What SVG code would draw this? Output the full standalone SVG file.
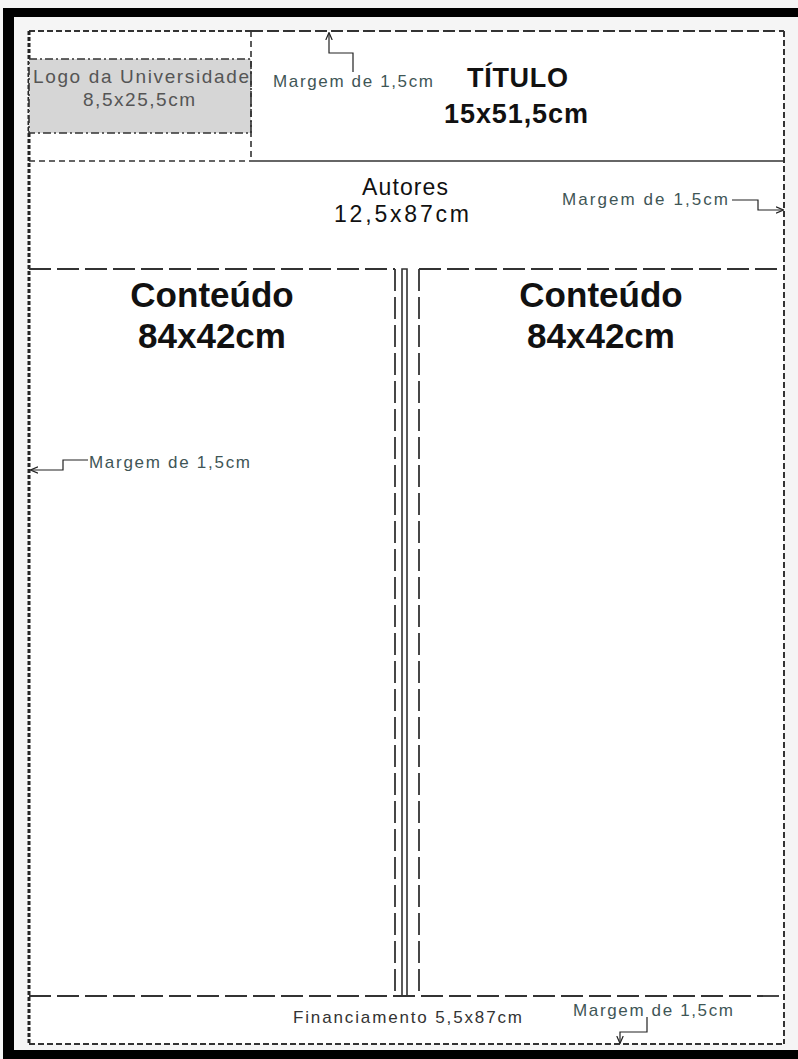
<svg xmlns="http://www.w3.org/2000/svg" width="798" height="1059" viewBox="0 0 798 1059">
  <defs>
    <marker id="arr" viewBox="0 0 8 8" refX="7" refY="4" markerWidth="8" markerHeight="8" markerUnits="userSpaceOnUse" orient="auto">
      <path d="M0,0.8 L7.5,4 L0,7.2" fill="none" stroke="#222" stroke-width="1.2"/>
    </marker>
  </defs>
  <style>
    .frame { fill: #000; }
    .paper { fill: #ffffff; }
    .edge { fill: none; stroke: #333; stroke-width: 2; stroke-dasharray: 6 3; }
    .edge-long { fill: none; stroke: #333; stroke-width: 2; stroke-dasharray: 12 4; }
    .edge-heavy { fill: none; stroke: #222; stroke-width: 3; stroke-dasharray: 4 2; }
    .short { fill: none; stroke: #333; stroke-width: 1.6; stroke-dasharray: 6 4; }
    .long { fill: none; stroke: #333; stroke-width: 1.8; stroke-dasharray: 22 6; }
    .solid { fill: none; stroke: #333; stroke-width: 1.6; }
    .logo { fill: #d6d6d6; stroke: #333; stroke-width: 1.6; stroke-dasharray: 8 3 2 3; }
    .conn { fill: none; stroke: #222; stroke-width: 1.2; marker-end: url(#arr); }
    .note { font-family: "Liberation Sans", Arial, sans-serif; font-size: 17px; fill: #3f5656; }
    .logotxt { font-family: "Liberation Sans", Arial, sans-serif; font-size: 19px; fill: #555; }
    .big { font-family: "Liberation Sans", Arial, sans-serif; font-size: 27px; font-weight: bold; fill: #111; }
    .mid { font-family: "Liberation Sans", Arial, sans-serif; font-size: 23px; fill: #111; }
    .huge { font-family: "Liberation Sans", Arial, sans-serif; font-size: 35px; font-weight: bold; fill: #111; text-anchor: middle; }
    .fin { font-family: "Liberation Sans", Arial, sans-serif; font-size: 17px; fill: #333; }
  </style>

  <rect x="0" y="0" width="798" height="1059" fill="#f5f5f5"/>
  <g id="black-frame">
    <rect class="frame" x="6" y="8" width="792" height="9"/>
    <rect class="frame" x="3" y="8" width="11" height="1051"/>
    <rect class="frame" x="3" y="1050" width="795" height="9"/>
  </g>

  <g id="poster">
    <rect class="paper" x="29" y="31" width="755" height="1013"/>
    <line class="edge" x1="29" y1="31" x2="251" y2="31"/>
    <line class="edge-long" x1="251" y1="31" x2="784" y2="31"/>
    <line class="edge" x1="784" y1="31" x2="784" y2="1044"/>
    <line class="edge" x1="29" y1="1044" x2="784" y2="1044"/>
    <line class="edge-heavy" x1="29" y1="31" x2="29" y2="1044"/>
  </g>

  <g id="logo">
    <rect class="logo" x="29" y="59" width="222" height="74"/>
    <text class="logotxt" x="33" y="83" textLength="216" lengthAdjust="spacing">Logo da Universidade</text>
    <text class="logotxt" x="83" y="106" textLength="112" lengthAdjust="spacing">8,5x25,5cm</text>
  </g>

  <g id="title">
    <line class="short" x1="251" y1="31" x2="251" y2="161"/>
    <line class="short" x1="29" y1="161" x2="251" y2="161"/>
    <line class="solid" x1="251" y1="161" x2="784" y2="161"/>
    <text class="big" x="467" y="87" textLength="101" lengthAdjust="spacing">TÍTULO</text>
    <text class="big" x="444" y="123" textLength="144" lengthAdjust="spacing">15x51,5cm</text>
  </g>

  <g id="authors">
    <text class="mid" x="362" y="195" textLength="86" lengthAdjust="spacing">Autores</text>
    <text class="mid" x="334" y="222" textLength="135" lengthAdjust="spacing">12,5x87cm</text>
  </g>

  <g id="content-left">
    <line class="long" x1="29" y1="269" x2="395" y2="269"/>
    <line class="long" x1="395" y1="269" x2="395" y2="996"/>
    <text class="huge" x="212" y="307">Conteúdo</text>
    <text class="huge" x="212" y="348">84x42cm</text>
  </g>

  <g id="gutter">
    <polyline class="solid" points="402,996 402,269 407,269 407,996"/>
  </g>

  <g id="content-right">
    <line class="long" x1="419" y1="269" x2="784" y2="269"/>
    <line class="long" x1="419" y1="269" x2="419" y2="996"/>
    <text class="huge" x="601" y="307">Conteúdo</text>
    <text class="huge" x="601" y="348">84x42cm</text>
  </g>

  <g id="funding">
    <line class="long" x1="29" y1="996" x2="784" y2="996"/>
    <text class="fin" x="293" y="1023" textLength="229" lengthAdjust="spacing">Financiamento 5,5x87cm</text>
  </g>

  <g id="margin-notes">
    <text class="note" x="273" y="87" textLength="160" lengthAdjust="spacing">Margem de 1,5cm</text>
    <text class="note" x="562" y="205" textLength="166" lengthAdjust="spacing">Margem de 1,5cm</text>
    <text class="note" x="89" y="468" textLength="161" lengthAdjust="spacing">Margem de 1,5cm</text>
    <text class="note" x="573" y="1016" textLength="160" lengthAdjust="spacing">Margem de 1,5cm</text>
  </g>

  <g id="connectors">
    <polyline class="conn" points="353,72 353,53 329,53 329,33"/>
    <polyline class="conn" points="732,200 758,200 758,210 783,210"/>
    <polyline class="conn" points="88,460 63,460 63,470 31,470"/>
    <polyline class="conn" points="647,1017 647,1032 620,1032 620,1043"/>
  </g>
</svg>
